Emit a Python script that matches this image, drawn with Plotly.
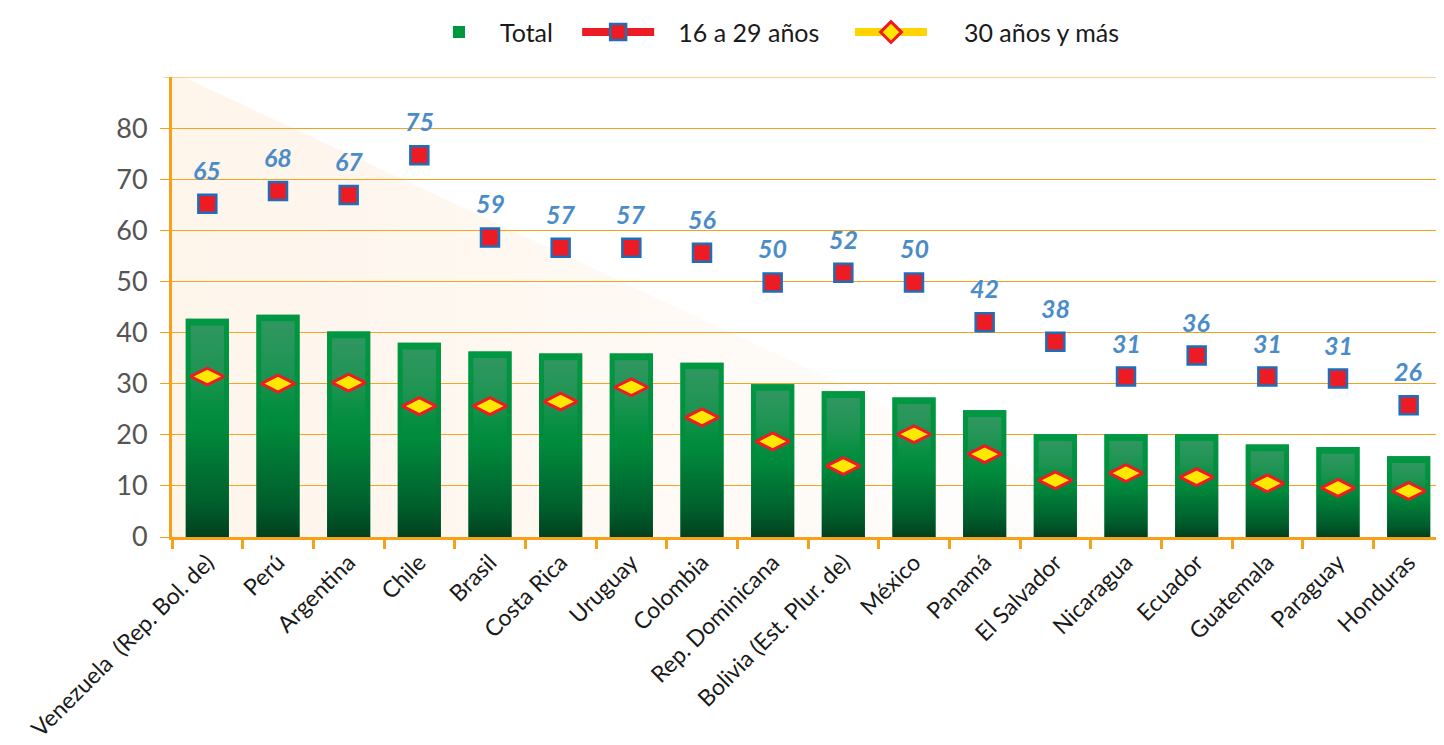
import plotly.graph_objects as go

countries = ["Venezuela  (Rep. Bol. de)", "Perú", "Argentina", "Chile", "Brasil", "Costa Rica",
             "Uruguay", "Colombia", "Rep. Dominicana", "Bolivia (Est. Plur. de)", "México",
             "Panamá", "El Salvador", "Nicaragua", "Ecuador", "Guatemala", "Paraguay", "Honduras"]
total = [42.7, 43.5, 40.2, 38.0, 36.3, 35.9, 35.9, 34.1, 29.9, 28.5, 27.3, 24.8,
         20.1, 20.1, 20.1, 18.1, 17.6, 15.8]
age_16_29 = [65.2, 67.7, 66.9, 74.7, 58.6, 56.6, 56.6, 55.6, 49.8, 51.7, 49.8, 42.0,
             38.2, 31.4, 35.5, 31.4, 31.0, 25.8]
age_30_plus = [31.4, 30.0, 30.2, 25.6, 25.6, 26.5, 29.3, 23.4, 18.7, 13.9, 20.1, 16.2,
               11.1, 12.5, 11.7, 10.5, 9.6, 9.0]
y_ticks = [0, 10, 20, 30, 40, 50, 60, 70, 80]

ORANGE = "#f7a11a"
GREEN = "#009640"
RED = "#ed1c24"
BLUE = "#1f6fb8"
YELLOW = "#ffe800"
LABEL_BLUE = "#4a8cc9"
FONT = "Lato"
NB = "\u00a0"

idx = list(range(len(countries)))
bw = 0.61
inner = 0.47

fig = go.Figure()

# decorative peach background wedge
fig.add_trace(go.Scatter(
    x=[-0.5, -0.34, 13.6, -0.5, -0.5], y=[90, 90, 0, 0, 90],
    mode="lines", fill="toself", line=dict(width=0),
    fillgradient=dict(type="horizontal",
                      colorscale=[[0, "rgba(247,175,100,0.13)"], [0.5, "rgba(247,175,100,0.07)"],
                                  [1, "rgba(247,175,100,0.0)"]]),
    hoverinfo="skip", showlegend=False))

# Total bars (legend + base)
fig.add_trace(go.Bar(x=idx, y=total, width=bw, name="Total" + NB * 3,
                     marker=dict(color=GREEN, line=dict(width=0)), hoverinfo="skip"))

# gradient overlays for each bar
for i, t in zip(idx, total):
    fig.add_trace(go.Scatter(
        x=[i - bw / 2, i + bw / 2, i + bw / 2, i - bw / 2, i - bw / 2],
        y=[0, 0, t, t, 0], mode="lines", fill="toself", line=dict(width=0),
        fillgradient=dict(type="vertical",
                          colorscale=[[0, "#00401e"], [0.15, "#005e2c"], [0.5, "#008a3c"],
                                      [1, "#009842"]]),
        hoverinfo="skip", showlegend=False))
    top = t - 1.3
    fig.add_trace(go.Scatter(
        x=[i - inner / 2, i + inner / 2, i + inner / 2, i - inner / 2, i - inner / 2],
        y=[0, 0, top, top, 0], mode="lines", fill="toself", line=dict(width=0),
        fillgradient=dict(type="vertical",
                          colorscale=[[0, "rgba(0,70,35,0)"], [0.55, "rgba(30,150,80,0)"],
                                      [0.75, "rgba(50,150,95,0.55)"], [1, "rgba(48,150,96,1)"]]),
        hoverinfo="skip", showlegend=False))

# 16 a 29 años markers
fig.add_trace(go.Scatter(
    x=idx, y=age_16_29, mode="markers", showlegend=False,
    marker=dict(symbol="square", size=18, color=RED, line=dict(color=BLUE, width=2.5))))
# 30 años y más markers
fig.add_trace(go.Scatter(
    x=idx, y=age_30_plus, mode="markers", showlegend=False,
    marker=dict(symbol="diamond-wide", size=24, color=YELLOW, line=dict(color=RED, width=3))))

# legend entries
fig.add_trace(go.Scatter(x=[None], y=[None], mode="lines+markers", name=NB * 3 + "16 a 29 años" + NB * 4,
                         line=dict(color=RED, width=8),
                         marker=dict(symbol="square", size=18, color=RED, line=dict(color=BLUE, width=2.5))))
fig.add_trace(go.Scatter(x=[None], y=[None], mode="lines+markers", name=NB * 5 + "30 años y más",
                         line=dict(color="#ffd400", width=8),
                         marker=dict(symbol="diamond", size=20, color=YELLOW, line=dict(color=RED, width=3))))

for i, v in zip(idx, age_16_29):
    fig.add_annotation(x=i, y=v, text=f"{v:.0f}", showarrow=False, yshift=34,
                       font=dict(family=FONT, size=25, color=LABEL_BLUE, style="italic", weight="bold"))

# top gridline at 90
fig.add_shape(type="line", xref="paper", yref="y", x0=-0.007, x1=1, y0=90, y1=90,
              line=dict(color=ORANGE, width=1.2), layer="below")

fig.update_layout(
    width=1436, height=737,
    margin=dict(l=164, r=0, t=69, b=208, autoexpand=False),
    paper_bgcolor="white", plot_bgcolor="white",
    font=dict(family=FONT, color="#222222"),
    barmode="overlay",
    legend=dict(orientation="h", x=0.4713, xanchor="center", yref="container", y=0.967, yanchor="middle",
                font=dict(size=25, color="#1a1a1a"), itemwidth=72,
                traceorder="normal", bgcolor="rgba(0,0,0,0)"),
    xaxis=dict(range=[-0.5, len(countries) - 0.5], tickvals=idx, ticktext=countries,
               tickangle=-45, tickfont=dict(size=23, color="#1a1a1a"), automargin=False,
               showgrid=False, zeroline=False, ticks="",
               showline=True, linecolor=ORANGE, linewidth=3,
               minor=dict(tick0=0.5, dtick=1, ticks="outside", ticklen=9, tickwidth=2.5,
                          tickcolor=ORANGE, showgrid=False)),
    yaxis=dict(range=[0, 90], tickvals=y_ticks, tickfont=dict(size=27, color="#555555"),
               automargin=False,
               showgrid=True, gridcolor=ORANGE, gridwidth=1.2, zeroline=False,
               showline=True, linecolor=ORANGE, linewidth=3,
               ticks="outside", ticklen=9, tickcolor=ORANGE, tickwidth=1.2,
               ticklabelstandoff=7),
)

fig.write_html("out.html")
